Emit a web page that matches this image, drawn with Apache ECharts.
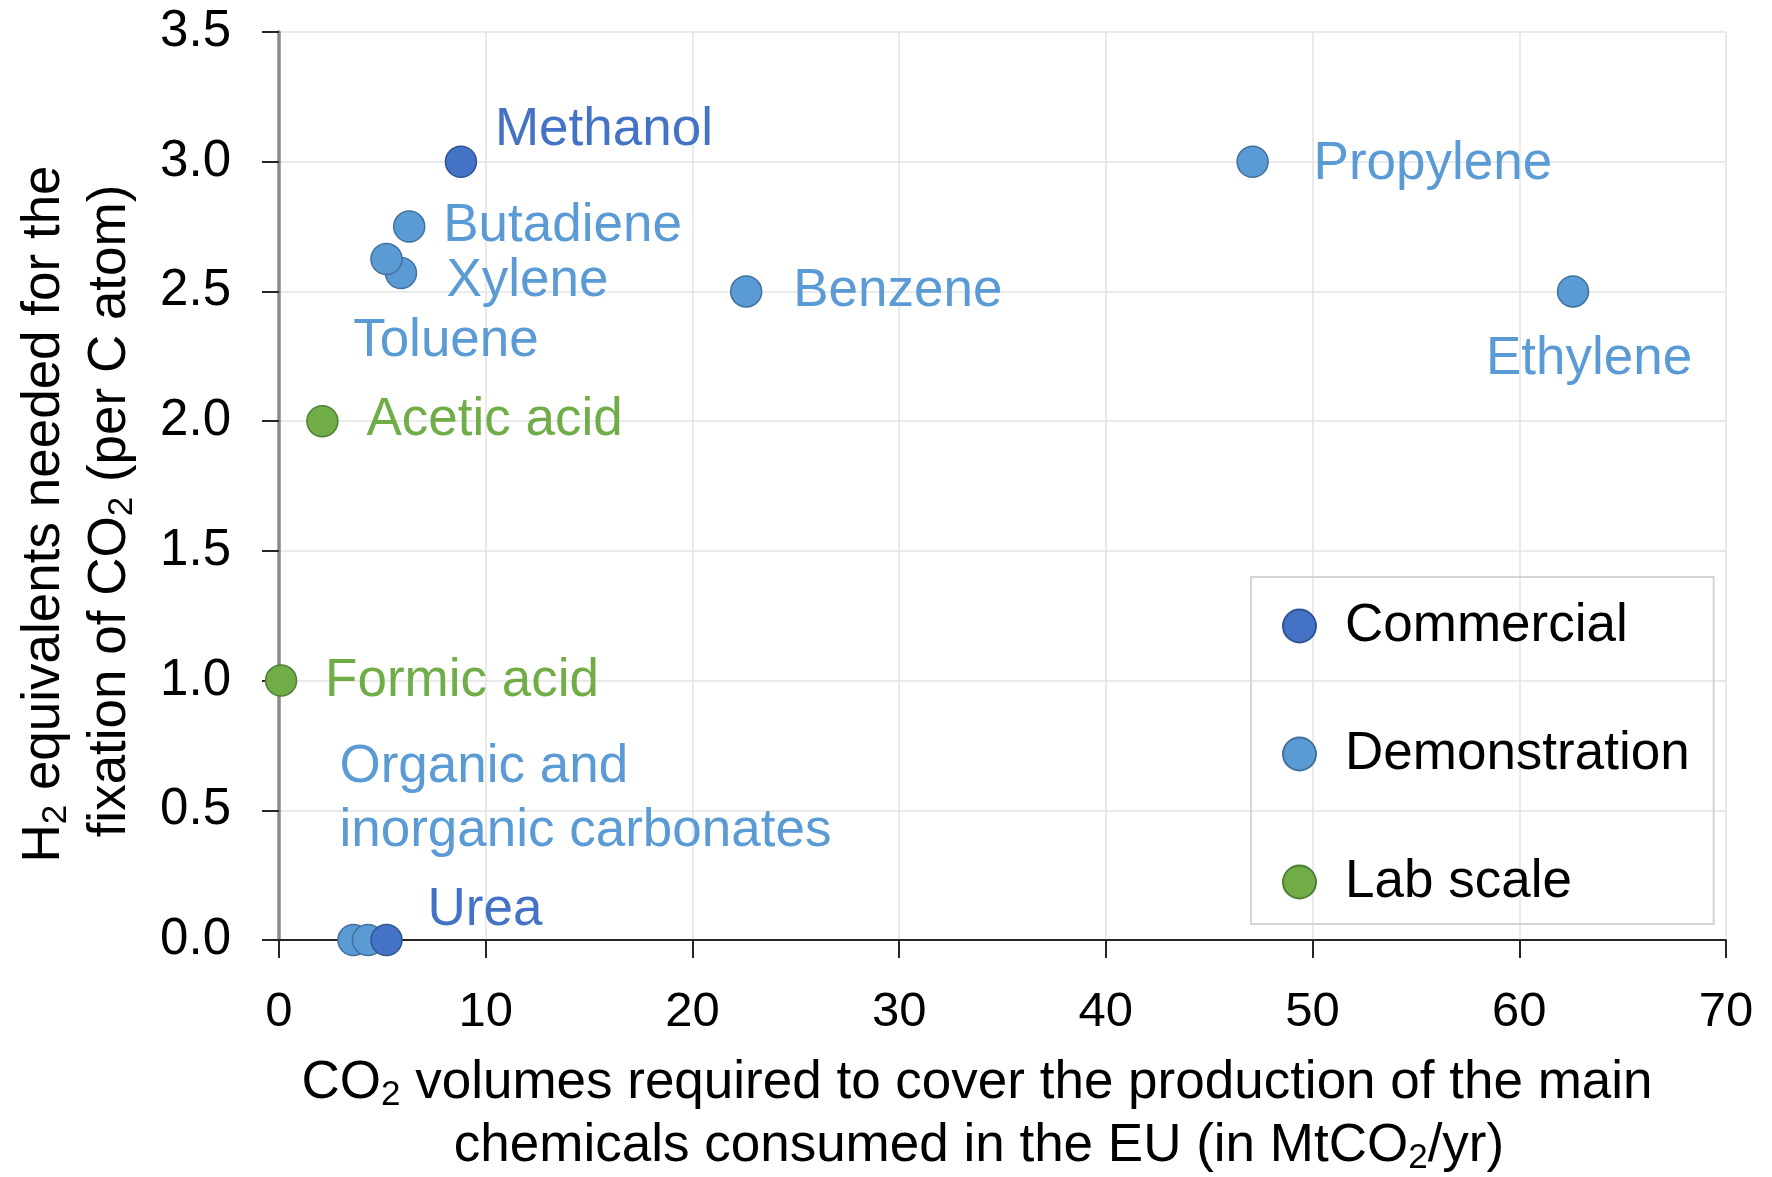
<!DOCTYPE html>
<html>
<head>
<meta charset="utf-8">
<script src="https://cdn.jsdelivr.net/npm/echarts@6/dist/echarts.min.js"></script>
<style>
html,body{margin:0;padding:0;background:#fff;}
#chart{width:1772px;height:1177px;}
</style>
</head>
<body>
<div id="chart"></div>
<script>
// ---- Data ----
const xTicks = [0, 10, 20, 30, 40, 50, 60, 70];
const yTicks = [0.0, 0.5, 1.0, 1.5, 2.0, 2.5, 3.0, 3.5];

const demoNames = ['Propylene', 'Butadiene', 'Toluene', 'Xylene', 'Benzene', 'Ethylene', 'Organic and\ninorganic carbonates', ''];
const demoX     = [47.1, 6.3, 5.9, 5.2, 22.6, 62.6, 3.6, 4.3];
const demoY     = [3.0, 2.75, 2.571, 2.625, 2.5, 2.5, 0.0, 0.0];

const commercialNames = ['Methanol', 'Urea'];
const commercialX     = [8.8, 5.2];
const commercialY     = [3.0, 0.0];

const labNames = ['Acetic acid', 'Formic acid'];
const labX     = [2.1, 0.1];
const labY     = [2.0, 1.0];

// ---- Label placement (style, kept apart from data) ----
const labelPlacement = {
  'Methanol':    {offset: [34, -31], align: 'left'},
  'Urea':        {offset: [41, -30], align: 'left'},
  'Propylene':   {offset: [61, 3], align: 'left'},
  'Butadiene':   {offset: [34, 0], align: 'left'},
  'Xylene':      {offset: [60, 22], align: 'left'},
  'Toluene':     {offset: [45, 68], align: 'center'},
  'Benzene':     {offset: [47, 0], align: 'left'},
  'Ethylene':    {offset: [16, 68], align: 'center'},
  'Organic and\ninorganic carbonates': {offset: [-14, -141], align: 'left'},
  'Acetic acid': {offset: [44, -1], align: 'left'},
  'Formic acid': {offset: [44, 1], align: 'left'}
};

const C_COM = '#4472C4', C_DEMO = '#5B9BD5', C_LAB = '#70AD47';
const FONT = 'Liberation Sans, Arial, sans-serif';

function buildData(names, xs, ys, color) {
  return names.map((n, i) => {
    const p = labelPlacement[n];
    const item = {name: n, value: [xs[i], ys[i]]};
    if (p) {
      item.label = {
        show: true, position: 'inside', offset: p.offset, align: p.align,
        verticalAlign: 'middle', formatter: '{b}', color: color,
        fontSize: 53, fontFamily: FONT, lineHeight: 64
      };
    }
    return item;
  });
}

const chart = echarts.init(document.getElementById('chart'));
const richT = {
  n: {fontSize: 53, fontFamily: FONT, color: '#000', lineHeight: 60},
  s: {fontSize: 35, fontFamily: FONT, color: '#000', lineHeight: 28, verticalAlign: 'bottom'}
};

const option = {
  backgroundColor: '#fff',
  animation: false,
  grid: {left: 279, right: 46, top: 32, bottom: 237, containLabel: false},
  xAxis: {
    type: 'value', min: 0, max: 70, interval: 10,
    axisLine: {show: true, lineStyle: {color: '#262626', width: 2}},
    axisTick: {show: true, length: 18, lineStyle: {color: '#262626', width: 2}},
    axisLabel: {margin: 48, fontSize: 49, fontFamily: FONT, color: '#000',
      formatter: v => xTicks.includes(v) ? String(v) : ''},
    splitLine: {show: true, lineStyle: {color: '#e3e3e3', width: 1.5}}
  },
  yAxis: {
    type: 'value', min: 0, max: 3.5, interval: 0.5,
    axisLine: {show: true, onZero: false, lineStyle: {color: '#8a8a8a', width: 3.5}},
    axisTick: {show: true, length: 17, lineStyle: {color: '#262626', width: 2}},
    axisLabel: {margin: 48, fontSize: 51, fontFamily: FONT, color: '#000',
      formatter: v => yTicks.includes(+v.toFixed(1)) ? v.toFixed(1) : ''},
    splitLine: {show: true, lineStyle: {color: '#e3e3e3', width: 1.5}}
  },
  legend: {
    orient: 'vertical', left: 1251, top: 577,
    padding: [19, 24, 12, 31],
    itemGap: 68, itemWidth: 33, itemHeight: 33,
    borderColor: '#d4d4d4', borderWidth: 2,
    icon: 'circle',
    textStyle: {fontSize: 53, fontFamily: FONT, color: '#000', lineHeight: 60, padding: [0, 0, 0, 24]},
    data: ['Commercial', 'Demonstration', 'Lab scale']
  },
  series: [
    {
      name: 'Demonstration', type: 'scatter', symbol: 'circle', symbolSize: 31,
      itemStyle: {color: C_DEMO, borderColor: '#41719C', borderWidth: 1.5, opacity: 1},
      data: buildData(demoNames, demoX, demoY, C_DEMO), z: 3
    },
    {
      name: 'Commercial', type: 'scatter', symbol: 'circle', symbolSize: 31,
      itemStyle: {color: C_COM, borderColor: '#2F5597', borderWidth: 1.5, opacity: 1},
      data: buildData(commercialNames, commercialX, commercialY, C_COM), z: 4
    },
    {
      name: 'Lab scale', type: 'scatter', symbol: 'circle', symbolSize: 31,
      itemStyle: {color: C_LAB, borderColor: '#507E32', borderWidth: 1.5, opacity: 1},
      data: buildData(labNames, labX, labY, C_LAB), z: 4
    }
  ],
  graphic: [
    {type: 'text', x: 44, y: 514, rotation: Math.PI / 2,
     style: {text: '{n|H}{s|2}{n| equivalents needed for the}', rich: richT, align: 'center', verticalAlign: 'middle'}},
    {type: 'text', x: 110, y: 511, rotation: Math.PI / 2,
     style: {text: '{n|fixation of CO}{s|2}{n| (per C atom)}', rich: richT, align: 'center', verticalAlign: 'middle'}},
    {type: 'text', x: 977, y: 1083,
     style: {text: '{n|CO}{s|2}{n| volumes required to cover the production of the main}', rich: richT, align: 'center', verticalAlign: 'middle'}},
    {type: 'text', x: 979, y: 1146,
     style: {text: '{n|chemicals consumed in the EU (in MtCO}{s|2}{n|/yr)}', rich: richT, align: 'center', verticalAlign: 'middle'}}
  ]
};
chart.setOption(option);
</script>
</body>
</html>
